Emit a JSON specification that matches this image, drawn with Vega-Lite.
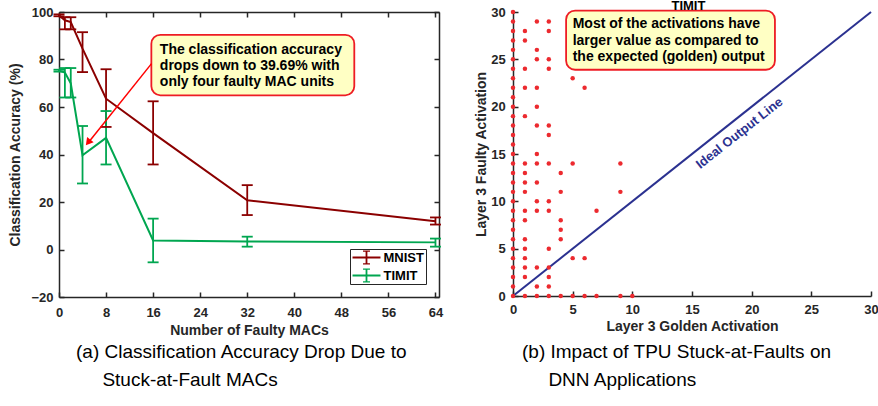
{
  "$schema": "https://vega.github.io/schema/vega-lite/v6.json",
  "background": "white",
  "autosize": {"type": "pad"},
  "padding": {"left": 8, "top": 0, "right": 0, "bottom": 0},
  "bounds": "flush",
  "spacing": 74,
  "resolve": {"scale": {"color": "independent"}, "legend": {"color": "independent"}},
  "config": {
    "view": {"stroke": null},
    "font": "Liberation Sans",
    "axis": {
      "grid": false,
      "domainColor": "#262626", "domainWidth": 1.5,
      "tickColor": "#262626", "tickWidth": 1.5, "tickSize": -5,
      "labelFont": "Liberation Sans", "labelFontWeight": "bold", "labelFontSize": 13, "labelColor": "#262626",
      "labelFlush": false, "labelOverlap": false,
      "titleFont": "Liberation Sans", "titleFontWeight": "bold", "titleFontSize": 14, "titleColor": "#262626"
    }
  },
  "datasets": {
    "acc": [
      {"n": 0, "series": "MNIST", "acc": 98.6, "lo": 98.2, "hi": 99.0},
      {"n": 1, "series": "MNIST", "acc": 96.5, "lo": 92.7, "hi": 97.8},
      {"n": 2, "series": "MNIST", "acc": 95.8, "lo": 92.7, "hi": 97.8},
      {"n": 4, "series": "MNIST", "acc": 84.6, "lo": 74.7, "hi": 91.5},
      {"n": 8, "series": "MNIST", "acc": 63.5, "lo": 51.6, "hi": 75.9},
      {"n": 16, "series": "MNIST", "acc": 49.0, "lo": 35.8, "hi": 62.4},
      {"n": 32, "series": "MNIST", "acc": 20.7, "lo": 14.5, "hi": 27.1},
      {"n": 64, "series": "MNIST", "acc": 11.9, "lo": 10.5, "hi": 13.5},
      {"n": 0, "series": "TIMIT", "acc": 75.3, "lo": 74.9, "hi": 75.7},
      {"n": 1, "series": "TIMIT", "acc": 74.5, "lo": 64.0, "hi": 76.4},
      {"n": 2, "series": "TIMIT", "acc": 70.0, "lo": 64.0, "hi": 76.4},
      {"n": 4, "series": "TIMIT", "acc": 39.69, "lo": 27.8, "hi": 52.0},
      {"n": 8, "series": "TIMIT", "acc": 47.0, "lo": 35.8, "hi": 58.3},
      {"n": 16, "series": "TIMIT", "acc": 3.8, "lo": -5.4, "hi": 13.0},
      {"n": 32, "series": "TIMIT", "acc": 3.4, "lo": 1.2, "hi": 5.4},
      {"n": 64, "series": "TIMIT", "acc": 3.0, "lo": 1.2, "hi": 4.6}
    ],
    "act": [
      {"g": 0, "f": 0}, {"g": 0, "f": 1}, {"g": 0, "f": 2}, {"g": 0, "f": 3}, {"g": 0, "f": 4}, {"g": 0, "f": 5},
      {"g": 0, "f": 6}, {"g": 0, "f": 7}, {"g": 0, "f": 8}, {"g": 0, "f": 9}, {"g": 0, "f": 10}, {"g": 0, "f": 11},
      {"g": 0, "f": 12}, {"g": 0, "f": 13}, {"g": 0, "f": 14}, {"g": 0, "f": 15}, {"g": 0, "f": 16}, {"g": 0, "f": 17},
      {"g": 0, "f": 18}, {"g": 0, "f": 19}, {"g": 0, "f": 20}, {"g": 0, "f": 21}, {"g": 0, "f": 22}, {"g": 0, "f": 23},
      {"g": 0, "f": 24}, {"g": 0, "f": 25}, {"g": 0, "f": 26}, {"g": 0, "f": 27}, {"g": 0, "f": 28}, {"g": 0, "f": 29},
      {"g": 0, "f": 30},
      {"g": 1, "f": 28}, {"g": 1, "f": 27}, {"g": 1, "f": 24}, {"g": 1, "f": 22}, {"g": 1, "f": 19}, {"g": 1, "f": 14},
      {"g": 1, "f": 13}, {"g": 1, "f": 12}, {"g": 1, "f": 11}, {"g": 1, "f": 9}, {"g": 1, "f": 8}, {"g": 1, "f": 6},
      {"g": 1, "f": 5}, {"g": 1, "f": 4}, {"g": 1, "f": 3}, {"g": 1, "f": 2}, {"g": 1, "f": 0},
      {"g": 2, "f": 29}, {"g": 2, "f": 26}, {"g": 2, "f": 25}, {"g": 2, "f": 22}, {"g": 2, "f": 20}, {"g": 2, "f": 18},
      {"g": 2, "f": 15}, {"g": 2, "f": 14}, {"g": 2, "f": 12}, {"g": 2, "f": 10}, {"g": 2, "f": 9}, {"g": 2, "f": 3},
      {"g": 2, "f": 1}, {"g": 2, "f": 0},
      {"g": 3, "f": 29}, {"g": 3, "f": 28}, {"g": 3, "f": 25}, {"g": 3, "f": 24}, {"g": 3, "f": 18}, {"g": 3, "f": 17},
      {"g": 3, "f": 14}, {"g": 3, "f": 10}, {"g": 3, "f": 9}, {"g": 3, "f": 5}, {"g": 3, "f": 3}, {"g": 3, "f": 2},
      {"g": 3, "f": 1}, {"g": 3, "f": 0},
      {"g": 4, "f": 13}, {"g": 4, "f": 11}, {"g": 4, "f": 8}, {"g": 4, "f": 7}, {"g": 4, "f": 6}, {"g": 4, "f": 0},
      {"g": 5, "f": 23}, {"g": 5, "f": 14}, {"g": 5, "f": 4}, {"g": 5, "f": 0},
      {"g": 6, "f": 22}, {"g": 6, "f": 4}, {"g": 6, "f": 0},
      {"g": 7, "f": 9}, {"g": 7, "f": 0},
      {"g": 9, "f": 14}, {"g": 9, "f": 11}, {"g": 9, "f": 0},
      {"g": 10, "f": 0}
    ],
    "ideal": [{"g": 0, "f": 0}, {"g": 30, "f": 30}]
  },
  "hconcat": [
    {
      "width": 380,
      "height": 285,
      "title": {
        "text": ["(a) Classification Accuracy Drop Due to", "\u200b\u00a0\u00a0\u00a0\u00a0\u00a0Stuck-at-Fault MACs"],
        "orient": "bottom", "anchor": "start", "frame": "group", "dx": 17, "offset": 6,
        "font": "Liberation Sans", "fontSize": 19, "fontWeight": "normal", "color": "black", "lineHeight": 28
      },
      "layer": [
        {
          "data": {"name": "acc"},
          "mark": {"type": "line", "strokeWidth": 2},
          "encoding": {
            "x": {"field": "n", "type": "quantitative", "scale": {"domain": [0, 64.6], "nice": false, "zero": false},
                  "axis": {"orient": "bottom", "values": [0, 8, 16, 24, 32, 40, 48, 56, 64], "title": "Number of Faulty MACs", "labelPadding": 14, "titlePadding": 4}},
            "y": {"field": "acc", "type": "quantitative", "scale": {"domain": [-20, 100], "nice": false},
                  "axis": {"orient": "left", "values": [-20, 0, 20, 40, 60, 80, 100], "title": "Classification Accuracy (%)", "labelPadding": 11, "titlePadding": 8}},
            "color": {"field": "series", "type": "nominal", "scale": {"domain": ["MNIST", "TIMIT"], "range": ["#8b0000", "#00a650"]},
                      "legend": {"title": null, "orient": "bottom-right", "offset": 13, "fillColor": "white", "strokeColor": "#262626",
                                 "padding": 1.5, "rowPadding": 4, "clipHeight": 14,
                                 "symbolType": "M-2.33,0H2.33M0,-1.12V1.12M-0.58,-1.12H0.58M-0.58,1.12H0.58",
                                 "symbolSize": 144, "symbolStrokeWidth": 1.8, "symbolFillColor": "transparent", "symbolOffset": 8,
                                 "labelOffset": 10, "labelFont": "Liberation Sans", "labelFontSize": 13, "labelFontWeight": "bold", "labelColor": "black"}}
          }
        },
        {
          "data": {"name": "acc"},
          "mark": {"type": "rule", "strokeWidth": 1.8},
          "encoding": {
            "x": {"field": "n", "type": "quantitative", "axis": {"orient": "top", "values": [0, 8, 16, 24, 32, 40, 48, 56, 64], "labels": false, "title": null}},
            "y": {"field": "lo", "type": "quantitative", "axis": {"orient": "right", "values": [-20, 0, 20, 40, 60, 80, 100], "labels": false, "title": null}},
            "y2": {"field": "hi"},
            "color": {"field": "series", "type": "nominal", "legend": null}
          }
        },
        {
          "data": {"name": "acc"},
          "mark": {"type": "tick", "orient": "horizontal", "size": 11, "thickness": 1.8, "opacity": 1},
          "encoding": {
            "x": {"field": "n", "type": "quantitative", "axis": null},
            "y": {"field": "lo", "type": "quantitative", "axis": null},
            "color": {"field": "series", "type": "nominal", "legend": null}
          }
        },
        {
          "data": {"name": "acc"},
          "mark": {"type": "tick", "orient": "horizontal", "size": 11, "thickness": 1.8, "opacity": 1},
          "encoding": {
            "x": {"field": "n", "type": "quantitative", "axis": null},
            "y": {"field": "hi", "type": "quantitative", "axis": null},
            "color": {"field": "series", "type": "nominal", "legend": null}
          }
        },
        {
          "data": {"values": [{}]},
          "mark": {"type": "rect", "fill": "#ffffc4", "stroke": "#ee1c24", "strokeWidth": 1.8, "cornerRadius": 9},
          "encoding": {
            "x": {"datum": 15.7, "type": "quantitative", "axis": null},
            "x2": {"datum": 50.2},
            "y": {"datum": 64.9, "type": "quantitative", "axis": null},
            "y2": {"datum": 90.4}
          }
        },
        {
          "data": {"values": [{}]},
          "mark": {"type": "text", "text": ["The classification accuracy", "drops down to 39.69% with", "only four faulty MAC units"],
                   "align": "left", "baseline": "middle", "font": "Liberation Sans", "fontSize": 14, "fontWeight": "bold", "lineHeight": 16, "color": "black"},
          "encoding": {
            "x": {"datum": 17.14, "type": "quantitative", "axis": null},
            "y": {"datum": 83.85, "type": "quantitative", "axis": null}
          }
        },
        {
          "data": {"values": [{}]},
          "mark": {"type": "rule", "color": "#ff0000", "strokeWidth": 1.5},
          "encoding": {
            "x": {"datum": 15.73, "type": "quantitative", "axis": null},
            "y": {"datum": 78.26, "type": "quantitative", "axis": null},
            "x2": {"datum": 5.07},
            "y2": {"datum": 45.25}
          }
        },
        {
          "data": {"values": [{}]},
          "mark": {"type": "point", "shape": "triangle-up", "filled": true, "color": "#ff0000", "size": 70, "angle": 218.5, "opacity": 1},
          "encoding": {
            "x": {"datum": 4.95, "type": "quantitative", "axis": null},
            "y": {"datum": 45.1, "type": "quantitative", "axis": null}
          }
        }
      ]
    },
    {
      "width": 358,
      "height": 284,
      "title": {
        "text": ["(b) Impact of TPU Stuck-at-Faults on", "\u200b\u00a0\u00a0\u00a0\u00a0\u00a0DNN Applications"],
        "orient": "bottom", "anchor": "start", "frame": "group", "dx": 9, "offset": 10,
        "font": "Liberation Sans", "fontSize": 19, "fontWeight": "normal", "color": "black", "lineHeight": 28
      },
      "layer": [
        {
          "data": {"name": "ideal"},
          "mark": {"type": "line", "color": "#2b3190", "strokeWidth": 2},
          "encoding": {
            "x": {"field": "g", "type": "quantitative", "scale": {"domain": [0, 30], "nice": false},
                  "axis": {"orient": "bottom", "values": [0, 5, 10, 15, 20, 25, 30], "title": "Layer 3 Golden Activation", "labelPadding": 12.3, "titlePadding": 3}},
            "y": {"field": "f", "type": "quantitative", "scale": {"domain": [0, 30], "nice": false},
                  "axis": {"orient": "left", "values": [0, 5, 10, 15, 20, 25, 30], "title": "Layer 3 Faulty Activation", "labelPadding": 12.8, "titlePadding": 2}}
          }
        },
        {
          "data": {"name": "act"},
          "mark": {"type": "circle", "color": "#ec2a2f", "size": 20, "opacity": 1},
          "encoding": {
            "x": {"field": "g", "type": "quantitative"},
            "y": {"field": "f", "type": "quantitative"}
          }
        },
        {
          "data": {"values": [{}]},
          "mark": {"type": "text", "text": "Ideal Output Line", "align": "center", "baseline": "middle", "angle": 321.8,
                   "font": "Liberation Sans", "fontSize": 13, "fontWeight": "bold", "color": "#2b3190"},
          "encoding": {
            "x": {"datum": 18.97, "type": "quantitative"},
            "y": {"datum": 17.2, "type": "quantitative"}
          }
        },
        {
          "data": {"values": [{}]},
          "mark": {"type": "rect", "fill": "#ffffc4", "stroke": "#ee1c24", "strokeWidth": 1.8, "cornerRadius": 9},
          "encoding": {
            "x": {"datum": 4.45, "type": "quantitative"},
            "x2": {"datum": 21.95},
            "y": {"datum": 23.9, "type": "quantitative"},
            "y2": {"datum": 30.15}
          }
        },
        {
          "data": {"values": [{}]},
          "mark": {"type": "text", "text": ["Most of the activations have", "larger value as compared to", "the expected (golden) output"],
                   "align": "left", "baseline": "middle", "font": "Liberation Sans", "fontSize": 14, "fontWeight": "bold", "lineHeight": 16.7, "color": "black"},
          "encoding": {
            "x": {"datum": 5.0, "type": "quantitative"},
            "y": {"datum": 28.74, "type": "quantitative"}
          }
        },
        {
          "data": {"values": [{}]},
          "mark": {"type": "text", "text": "TIMIT", "align": "center", "baseline": "alphabetic",
                   "font": "Liberation Sans", "fontSize": 13, "fontWeight": "bold", "color": "black"},
          "encoding": {
            "x": {"datum": 14.7, "type": "quantitative"},
            "y": {"datum": 30.21, "type": "quantitative"}
          }
        }
      ]
    }
  ]
}
